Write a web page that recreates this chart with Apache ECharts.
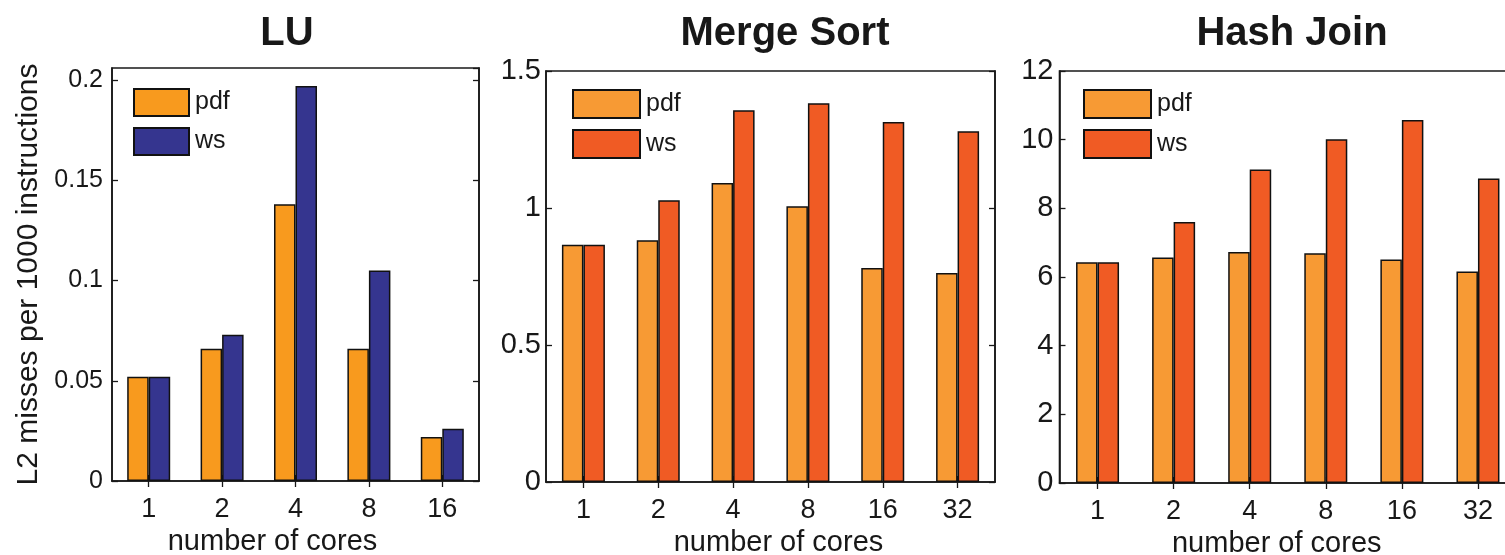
<!DOCTYPE html>
<html>
<head>
<meta charset="utf-8">
<script src="https://cdn.jsdelivr.net/npm/echarts@6/dist/echarts.min.js"></script>
<style>
  html, body { margin: 0; padding: 0; background: #fff; }
  #chart { width: 1505px; height: 555px; }
</style>
</head>
<body>
<div id="chart"></div>
<script>
// L2 cache misses per 1000 instructions, pdf vs ws scheduler, by core count

const luCores = ['1', '2', '4', '8', '16'];
const luPdf = [0.052, 0.066, 0.138, 0.066, 0.022];
const luWs = [0.052, 0.073, 0.197, 0.105, 0.026];

const sortCores = ['1', '2', '4', '8', '16', '32'];
const sortPdf = [0.866, 0.882, 1.091, 1.006, 0.781, 0.763];
const sortWs = [0.866, 1.028, 1.357, 1.382, 1.314, 1.280];

const hashCores = ['1', '2', '4', '8', '16', '32'];
const hashPdf = [6.43, 6.57, 6.73, 6.69, 6.51, 6.16];
const hashWs = [6.43, 7.60, 9.13, 10.01, 10.57, 8.87];

const panelTitles = ['LU', 'Merge Sort', 'Hash Join'];
const seriesNames = ['pdf', 'ws'];
const xName = 'number of cores';
const yName = 'L2 misses per 1000 instructions';

const FONT = '"Liberation Sans", Arial, Helvetica, sans-serif';
const INK = '#181818';

// per-panel geometry and styling
const panels = [
  {
    title: panelTitles[0], titleX: 282,
    cats: luCores, pdf: luPdf, ws: luWs,
    colors: ['#F89A1E', '#35358F'],
    grid: { left: 112, top: 68, width: 367, height: 413 },
    yMax: 0.206, yStep: 0.05, yFont: 25, yMargin: 9,
    legend: { left: 133, top: 88, w: 55, h: 27 },
    nameShift: -23
  },
  {
    title: panelTitles[1], titleX: 780,
    cats: sortCores, pdf: sortPdf, ws: sortWs,
    colors: ['#F79A34', '#F05B24'],
    grid: { left: 546, top: 71, width: 449, height: 411 },
    yMax: 1.5, yStep: 0.5, yFont: 29, yMargin: 5,
    legend: { left: 572, top: 89, w: 67, h: 28 },
    nameShift: 8
  },
  {
    title: panelTitles[2], titleX: 1287,
    cats: hashCores, pdf: hashPdf, ws: hashWs,
    colors: ['#F79A34', '#F05B24'],
    grid: { left: 1059.5, top: 71, width: 456.5, height: 412 },
    yMax: 12, yStep: 2, yFont: 29, yMargin: 6,
    legend: { left: 1083, top: 89, w: 67, h: 28 },
    nameShift: -11
  }
];

const option = {
  backgroundColor: '#ffffff',
  animation: false,
  textStyle: { fontFamily: FONT, color: INK },
  title: [],
  legend: [],
  grid: [],
  xAxis: [],
  yAxis: [],
  series: []
};

const tickStyle = { show: true, inside: true, length: 6, lineStyle: { color: INK, width: 1.3 } };

panels.forEach((p, i) => {
  option.title.push({
    text: p.title,
    left: p.titleX,
    top: 9,
    textAlign: 'center',
    textStyle: { fontFamily: FONT, fontSize: 40, fontWeight: 'bold', color: INK }
  });

  option.grid.push(Object.assign({
    show: true,
    outerBoundsMode: 'none',
    containLabel: false,
    borderColor: INK,
    borderWidth: 1.6,
    backgroundColor: 'transparent'
  }, p.grid));

  const pad = p.nameShift < 0 ? [0, -2 * p.nameShift, 0, 0] : [0, 0, 0, 2 * p.nameShift];

  // bottom category axis with labels
  option.xAxis.push({
    type: 'category',
    gridIndex: i,
    data: p.cats,
    position: 'bottom',
    axisLine: { show: true, lineStyle: { color: INK, width: 1.6 } },
    axisTick: Object.assign({ alignWithLabel: true }, tickStyle),
    axisLabel: { margin: 15, fontSize: 27, color: INK, fontFamily: FONT },
    name: xName,
    nameLocation: 'middle',
    nameGap: 44,
    nameTextStyle: { fontSize: 29, color: INK, fontFamily: FONT, padding: pad },
    splitLine: { show: false }
  });
  // top mirror axis carrying only the tick marks
  option.xAxis.push({
    type: 'category',
    gridIndex: i,
    data: p.cats,
    position: 'top',
    axisLine: { show: false },
    axisTick: Object.assign({ alignWithLabel: true }, tickStyle),
    axisLabel: { show: false },
    splitLine: { show: false }
  });

  const yBase = {
    type: 'value',
    gridIndex: i,
    min: 0,
    max: p.yMax,
    interval: p.yStep,
    splitLine: { show: false },
    axisLine: { show: true, lineStyle: { color: INK, width: 1.6 } },
    axisTick: tickStyle
  };
  option.yAxis.push(Object.assign({}, yBase, {
    position: 'left',
    axisLabel: {
      fontSize: p.yFont, color: INK, fontFamily: FONT,
      margin: p.yMargin, showMaxLabel: p.yMax % p.yStep === 0
    },
    name: i === 0 ? yName : '',
    nameLocation: 'middle',
    nameGap: 68,
    nameTextStyle: { fontSize: 30, color: INK, fontFamily: FONT }
  }));
  option.yAxis.push(Object.assign({}, yBase, {
    position: 'right',
    axisLabel: { show: false }
  }));

  const names = seriesNames.map(n => p.title + ' ' + n);
  [p.pdf, p.ws].forEach((vals, k) => {
    option.series.push({
      type: 'bar',
      name: names[k],
      xAxisIndex: i * 2,
      yAxisIndex: i * 2,
      data: vals,
      barWidth: 21.5,
      barGap: '0%',
      itemStyle: { color: p.colors[k], borderColor: '#111', borderWidth: 1.5 },
      emphasis: { disabled: true }
    });
  });

  option.legend.push({
    data: names,
    orient: 'vertical',
    left: p.legend.left,
    top: p.legend.top,
    padding: 0,
    itemGap: 10,
    itemWidth: p.legend.w,
    itemHeight: p.legend.h,
    icon: 'rect',
    selectedMode: false,
    formatter: n => n.slice(n.lastIndexOf(' ') + 1),
    textStyle: { fontSize: 25, color: INK, fontFamily: FONT, padding: [0, 0, 0, 1] }
  });
});

const chart = echarts.init(document.getElementById('chart'), null, { renderer: 'canvas' });
chart.setOption(option);
</script>
</body>
</html>
